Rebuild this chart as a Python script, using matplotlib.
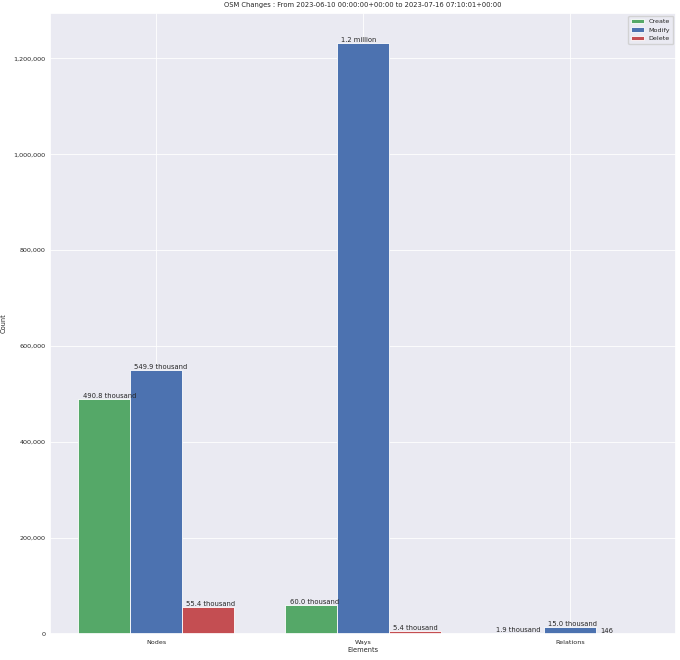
import numpy as np
import matplotlib.pyplot as plt
import seaborn as sns

sns.set_theme(style="darkgrid")

elements = ["Nodes", "Ways", "Relations"]
create = [490800, 60000, 1900]
modify = [549900, 1233000, 15000]
delete = [55400, 5400, 146]
title = "OSM Changes : From 2023-06-10 00:00:00+00:00 to 2023-07-16 07:10:01+00:00"


def human(n):
    """Roughly like humanize.intword"""
    if n >= 1_000_000:
        return f"{n / 1_000_000:.1f} million"
    if n >= 1000:
        return f"{n / 1000:.1f} thousand"
    return str(n)


fig = plt.figure(figsize=(6.8, 6.6), dpi=100)
ax = fig.add_axes([0.0735, 0.0394, 0.9206, 0.941])

x = np.arange(len(elements))
width = 0.25
series = [("Create", create, "#55A868"), ("Modify", modify, "#4C72B0"), ("Delete", delete, "#C44E52")]

for i, (name, vals, color) in enumerate(series):
    bars = ax.bar(x + (i - 1) * width, vals, width, label=name, color=color, edgecolor="white", linewidth=0.6)
    for b, v in zip(bars, vals):
        ax.text(b.get_x() + 0.02, b.get_height(), human(v), ha="left", va="bottom", fontsize=4.9, color="#262626")

ax.set_xticks(x)
ax.set_xticklabels(elements)
ax.yaxis.set_major_formatter(plt.FuncFormatter(lambda v, p: f"{int(v):,}"))
ax.tick_params(axis="y", labelsize=4.6, pad=3, length=0)
ax.tick_params(axis="x", labelsize=4.6, pad=4.5, length=0)
ax.grid(True, linewidth=0.6)
ax.set_xlabel("Elements", fontsize=4.8, labelpad=1.5)
ax.set_ylabel("Count", fontsize=4.8, labelpad=5)
ax.set_title(title, fontsize=4.9, pad=4)
ax.legend(loc="upper right", fontsize=4.6, handlelength=2.0)

fig.savefig("out.png")
